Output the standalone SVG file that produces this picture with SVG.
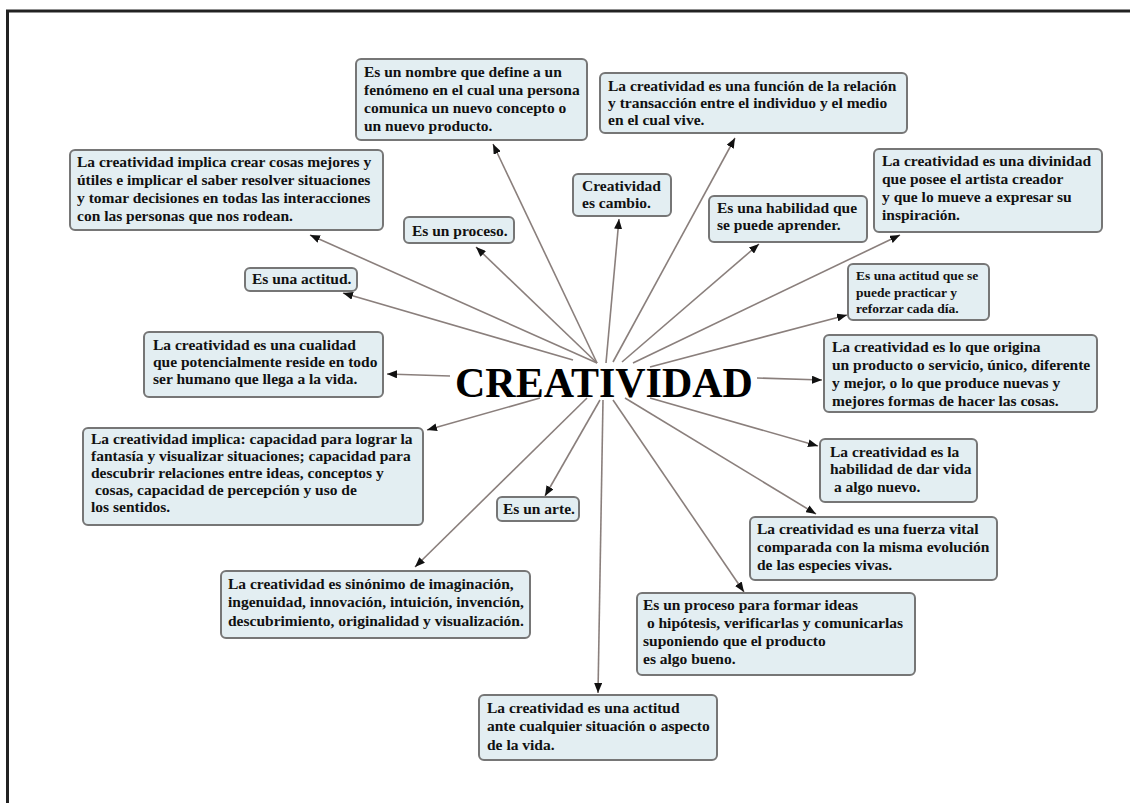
<svg xmlns="http://www.w3.org/2000/svg" width="1130" height="803" viewBox="0 0 1130 803">
<style>
.bx{fill:#e3eef2;stroke:#767676;stroke-width:2}
.t{font-family:"Liberation Serif","Times New Roman",serif;font-weight:bold;font-size:15.5px;fill:#111;white-space:pre}
.s{font-size:13.5px}
.ln{stroke:#8a7f7c;stroke-width:1.6;fill:none;marker-end:url(#ah)}
.main{font-family:"Liberation Serif","Times New Roman",serif;font-weight:bold;font-size:42px;fill:#000}
</style>
<defs>
<marker id="ah" viewBox="0 0 10 8" refX="10" refY="4" markerWidth="10" markerHeight="8" markerUnits="userSpaceOnUse" orient="auto">
<path d="M0,0 L10,4 L0,8 Z" fill="#111"/>
</marker>
</defs>
<rect x="0" y="0" width="1130" height="803" fill="#fff"/>
<rect x="7.5" y="11" width="1140" height="810" fill="none" stroke="#222" stroke-width="3"/>
<g id="connectors">
<line class="ln" x1="597" y1="363" x2="493" y2="144"/>
<line class="ln" x1="613" y1="362" x2="735" y2="138"/>
<line class="ln" x1="597" y1="363" x2="310" y2="235"/>
<line class="ln" x1="606" y1="363" x2="619" y2="219"/>
<line class="ln" x1="597" y1="363" x2="476" y2="247"/>
<line class="ln" x1="622" y1="362" x2="759" y2="244"/>
<line class="ln" x1="633" y1="363" x2="900" y2="235"/>
<line class="ln" x1="650" y1="367" x2="847" y2="315"/>
<line class="ln" x1="573" y1="360" x2="343" y2="293"/>
<line class="ln" x1="450" y1="376" x2="387" y2="374"/>
<line class="ln" x1="757" y1="378" x2="822" y2="380"/>
<line class="ln" x1="650" y1="398" x2="818" y2="446"/>
<line class="ln" x1="625" y1="398" x2="816" y2="514"/>
<line class="ln" x1="613" y1="400" x2="744" y2="592"/>
<line class="ln" x1="587" y1="398" x2="415" y2="567"/>
<line class="ln" x1="603" y1="400" x2="598" y2="693"/>
<line class="ln" x1="600" y1="400" x2="545" y2="496"/>
<line class="ln" x1="540" y1="398" x2="427" y2="430"/>
</g>
<g id="center">
<text class="main" x="455" y="397">CREATIVIDAD</text>
</g>
<g id="n1">
<rect class="bx" x="356" y="59" width="231" height="81" rx="5"/>
<text class="t"><tspan x="364" y="77">Es un nombre que define a un</tspan><tspan x="364" y="95">fenómeno en el cual una persona</tspan><tspan x="364" y="113">comunica un nuevo concepto o</tspan><tspan x="364" y="131">un nuevo producto.</tspan></text>
</g>
<g id="n2">
<rect class="bx" x="600" y="73" width="307" height="60" rx="5"/>
<text class="t"><tspan x="608" y="91">La creatividad es una función de la relación</tspan><tspan x="608" y="108">y transacción entre el individuo y el medio</tspan><tspan x="608" y="125">en el cual vive.</tspan></text>
</g>
<g id="n3">
<rect class="bx" x="70" y="150" width="313" height="80" rx="5"/>
<text class="t"><tspan x="77" y="167">La creatividad implica crear cosas mejores y</tspan><tspan x="77" y="185">útiles e implicar el saber resolver situaciones</tspan><tspan x="77" y="203">y tomar decisiones en todas las interacciones</tspan><tspan x="77" y="221">con las personas que nos rodean.</tspan></text>
</g>
<g id="n4">
<rect class="bx" x="573" y="174" width="98" height="42" rx="5"/>
<text class="t"><tspan x="582" y="191">Creatividad</tspan><tspan x="582" y="208">es cambio.</tspan></text>
</g>
<g id="n5">
<rect class="bx" x="404" y="217" width="110" height="26" rx="5"/>
<text class="t" x="412" y="236">Es un proceso.</text>
</g>
<g id="n6">
<rect class="bx" x="709" y="196" width="158" height="46" rx="5"/>
<text class="t"><tspan x="717" y="213">Es una habilidad que</tspan><tspan x="717" y="230">se puede aprender.</tspan></text>
</g>
<g id="n7">
<rect class="bx" x="874" y="149" width="228" height="83" rx="5"/>
<text class="t"><tspan x="882" y="166">La creatividad es una divinidad</tspan><tspan x="882" y="184">que posee el artista creador</tspan><tspan x="882" y="202">y que lo mueve a expresar su</tspan><tspan x="882" y="220">inspiración.</tspan></text>
</g>
<g id="n8">
<rect class="bx" x="848" y="264" width="141" height="56" rx="5"/>
<text class="t s"><tspan x="856" y="280">Es una actitud que se</tspan><tspan x="856" y="297">puede practicar y</tspan><tspan x="856" y="313">reforzar cada día.</tspan></text>
</g>
<g id="n9">
<rect class="bx" x="245" y="268" width="112" height="23" rx="5"/>
<text class="t" x="252" y="284">Es una actitud.</text>
</g>
<g id="n10">
<rect class="bx" x="144" y="332" width="239" height="65" rx="5"/>
<text class="t"><tspan x="153" y="350">La creatividad es una cualidad</tspan><tspan x="153" y="367">que potencialmente reside en todo</tspan><tspan x="153" y="384">ser humano que llega a la vida.</tspan></text>
</g>
<g id="n11">
<rect class="bx" x="824" y="335" width="273" height="77" rx="5"/>
<text class="t"><tspan x="832" y="352">La creatividad es lo que origina</tspan><tspan x="832" y="370">un producto o servicio, único, diferente</tspan><tspan x="832" y="388">y mejor, o lo que produce nuevas y</tspan><tspan x="832" y="406">mejores formas de hacer las cosas.</tspan></text>
</g>
<g id="n12">
<rect class="bx" x="820" y="439" width="157" height="63" rx="5"/>
<text class="t"><tspan x="830" y="457">La creatividad es la</tspan><tspan x="830" y="474">habilidad de dar vida</tspan><tspan x="830" y="492"> a algo nuevo.</tspan></text>
</g>
<g id="n13">
<rect class="bx" x="750" y="517" width="247" height="63" rx="5"/>
<text class="t"><tspan x="757" y="534">La creatividad es una fuerza vital</tspan><tspan x="757" y="552">comparada con la misma evolución</tspan><tspan x="757" y="570">de las especies vivas.</tspan></text>
</g>
<g id="n14">
<rect class="bx" x="637" y="593" width="278" height="82" rx="5"/>
<text class="t"><tspan x="643" y="610">Es un proceso para formar ideas</tspan><tspan x="643" y="628"> o hipótesis, verificarlas y comunicarlas</tspan><tspan x="643" y="646">suponiendo que el producto</tspan><tspan x="643" y="664">es algo bueno.</tspan></text>
</g>
<g id="n15">
<rect class="bx" x="221" y="571" width="309" height="67" rx="5"/>
<text class="t"><tspan x="228" y="589">La creatividad es sinónimo de imaginación,</tspan><tspan x="228" y="607">ingenuidad, innovación, intuición, invención,</tspan><tspan x="228" y="626">descubrimiento, originalidad y visualización.</tspan></text>
</g>
<g id="n16">
<rect class="bx" x="479" y="695" width="238" height="65" rx="5"/>
<text class="t"><tspan x="487" y="713">La creatividad es una actitud</tspan><tspan x="487" y="731">ante cualquier situación o aspecto</tspan><tspan x="487" y="750">de la vida.</tspan></text>
</g>
<g id="n17">
<rect class="bx" x="497" y="497" width="82" height="24" rx="5"/>
<text class="t" x="503" y="514">Es un arte.</text>
</g>
<g id="n18">
<rect class="bx" x="83" y="428" width="340" height="97" rx="5"/>
<text class="t"><tspan x="91" y="444">La creatividad implica: capacidad para lograr la</tspan><tspan x="91" y="461">fantasía y visualizar situaciones; capacidad para</tspan><tspan x="91" y="478">descubrir relaciones entre ideas, conceptos y</tspan><tspan x="91" y="495"> cosas, capacidad de percepción y uso de</tspan><tspan x="91" y="512">los sentidos.</tspan></text>
</g>
</svg>
